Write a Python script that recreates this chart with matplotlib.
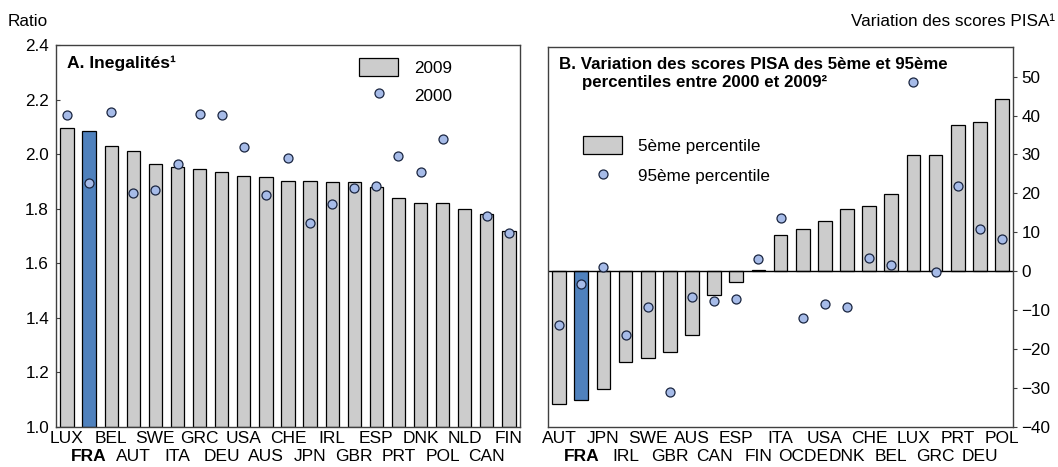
import matplotlib
matplotlib.use("Agg")
import matplotlib.pyplot as plt
from matplotlib.patches import Patch
from matplotlib.lines import Line2D

plt.rcParams['font.family'] = ['Liberation Sans', 'DejaVu Sans']

# Panel A data
countries_a = ["LUX", "FRA", "BEL", "AUT", "SWE", "ITA", "GRC", "DEU", "USA", "AUS", "CHE",
               "JPN", "IRL", "GBR", "ESP", "PRT", "DNK", "POL", "NLD", "CAN", "FIN"]
ratio_2009 = [2.095, 2.083, 2.03, 2.012, 1.964, 1.952, 1.947, 1.933, 1.921, 1.916, 1.90,
              1.90, 1.897, 1.897, 1.88, 1.838, 1.822, 1.822, 1.80, 1.779, 1.72]
ratio_2000 = [2.145, 1.895, 2.154, 1.858, 1.868, 1.962, 2.148, 2.144, 2.027, 1.851, 1.987,
              1.749, 1.818, 1.875, 1.884, 1.993, 1.935, 2.055, None, 1.772, 1.71]

# Panel B data
countries_b = ["AUT", "FRA", "JPN", "IRL", "SWE", "GBR", "AUS", "CAN", "ESP", "FIN", "ITA",
               "OCDE", "USA", "DNK", "CHE", "BEL", "LUX", "GRC", "PRT", "DEU", "POL"]
p5_change = [-34.1, -33.1, -30.2, -23.3, -22.3, -20.9, -16.4, -6.1, -2.7, 0.4, 9.3,
             10.9, 13.0, 15.9, 16.7, 19.9, 29.9, 29.9, 37.6, 38.4, 44.3]
p95_change = [-13.8, -3.2, 1.0, -16.5, -9.2, -31.2, -6.7, -7.7, -7.2, 3.0, 13.6,
              -12.1, -8.5, -9.1, 3.5, 1.7, 48.5, -0.2, 21.9, 10.9, 8.3]

GREY = "#CCCCCC"
BLUE = "#4F81BD"
DOT = "#A6BBE8"
DOT_EDGE = "#1A2540"
SPINE = "#404040"
FS = 12.3
FS_X = 12.5
FS_T = 12.2


def two_row_labels(ax, names):
    pos = list(range(len(names)))
    ax.set_xticks(pos[0::2])
    ax.set_xticklabels(names[0::2])
    ax.set_xticks(pos[1::2], minor=True)
    ax.set_xticklabels(names[1::2], minor=True)
    ax.tick_params(axis='x', which='major', length=0, labelsize=FS_X, pad=3)
    ax.tick_params(axis='x', which='minor', length=0, labelsize=FS_X, pad=16)
    for lab in ax.get_xticklabels(minor=True) + ax.get_xticklabels():
        if lab.get_text() == "FRA":
            lab.set_fontweight("bold")


fig = plt.figure(figsize=(10.58, 4.67), dpi=100)

# ---------------- Panel A ----------------
axA = fig.add_axes([0.0529, 0.0857, 0.4386, 0.818])
xa = list(range(len(countries_a)))
colsA = [BLUE if c == "FRA" else GREY for c in countries_a]
axA.bar(xa, [v - 1.0 for v in ratio_2009], bottom=1.0, width=0.6, color=colsA,
        edgecolor="black", linewidth=0.9, zorder=2)
xs = [x for x, v in zip(xa, ratio_2000) if v is not None]
ys = [v for v in ratio_2000 if v is not None]
axA.scatter(xs, ys, s=42, color=DOT, edgecolor=DOT_EDGE, linewidth=0.9, zorder=3)
axA.set_xlim(-0.5, len(countries_a) - 0.5)
axA.set_ylim(1.0, 2.4)
axA.set_yticks([1.0, 1.2, 1.4, 1.6, 1.8, 2.0, 2.2, 2.4])
axA.set_yticklabels(["1.0", "1.2", "1.4", "1.6", "1.8", "2.0", "2.2", "2.4"])
axA.tick_params(axis='y', direction='in', length=3, labelsize=FS, pad=5, color=SPINE)
two_row_labels(axA, countries_a)
for s in axA.spines.values():
    s.set_color(SPINE)
    s.set_linewidth(1.0)
axA.text(0.024, 0.953, "A. Inegalités¹", transform=axA.transAxes, fontsize=FS_T + 0.4,
         fontweight="bold", va="center", ha="left")
hA = [Patch(facecolor=GREY, edgecolor="black", linewidth=0.9),
      Line2D([], [], marker='o', linestyle='none', markersize=6.5,
             markerfacecolor=DOT, markeredgecolor=DOT_EDGE, markeredgewidth=0.9)]
axA.legend(hA, ["2009", "2000"], loc="upper left", bbox_to_anchor=(0.653, 0.965),
           frameon=False, fontsize=FS, handlelength=2.3, handleheight=1.2,
           handletextpad=0.9, labelspacing=0.6, borderpad=0, borderaxespad=0)
fig.text(8 / 1058, 1 - 22 / 467, "Ratio", fontsize=FS, ha="left", va="center")

# ---------------- Panel B ----------------
axB = fig.add_axes([0.518, 0.0863, 0.4395, 0.8137])
xb = list(range(len(countries_b)))
colsB = [BLUE if c == "FRA" else GREY for c in countries_b]
axB.bar(xb, p5_change, width=0.62, color=colsB, edgecolor="black", linewidth=0.9, zorder=2)
axB.scatter(xb, p95_change, s=42, color=DOT, edgecolor=DOT_EDGE, linewidth=0.9, zorder=3)
axB.axhline(0, color="black", linewidth=1.0, zorder=2.5)
axB.set_xlim(-0.5, len(countries_b) - 0.5)
axB.set_ylim(-40, 57.7)
axB.set_yticks([-40, -30, -20, -10, 0, 10, 20, 30, 40, 50])
axB.yaxis.tick_right()
axB.tick_params(axis='y', direction='out', length=3, labelsize=FS, pad=3, color=SPINE)
two_row_labels(axB, countries_b)
for s in axB.spines.values():
    s.set_color(SPINE)
    s.set_linewidth(1.0)
axB.text(0.024, 0.952, "B. Variation des scores PISA des 5ème et 95ème", transform=axB.transAxes,
         fontsize=FS_T, fontweight="bold", va="center", ha="left")
axB.text(0.073, 0.907, "percentiles entre 2000 et 2009²", transform=axB.transAxes,
         fontsize=FS_T, fontweight="bold", va="center", ha="left")
hB = [Patch(facecolor=GREY, edgecolor="black", linewidth=0.9),
      Line2D([], [], marker='o', linestyle='none', markersize=6.5,
             markerfacecolor=DOT, markeredgecolor=DOT_EDGE, markeredgewidth=0.9)]
axB.legend(hB, ["5ème percentile", "95ème percentile"], loc="upper left",
           bbox_to_anchor=(0.075, 0.765), frameon=False, fontsize=FS, handlelength=2.3,
           handleheight=1.2, handletextpad=0.9, labelspacing=0.75, borderpad=0,
           borderaxespad=0)
fig.text(1055 / 1058, 1 - 22 / 467, "Variation des scores PISA¹", fontsize=FS,
         ha="right", va="center")

fig.savefig("out.png", dpi=100)
